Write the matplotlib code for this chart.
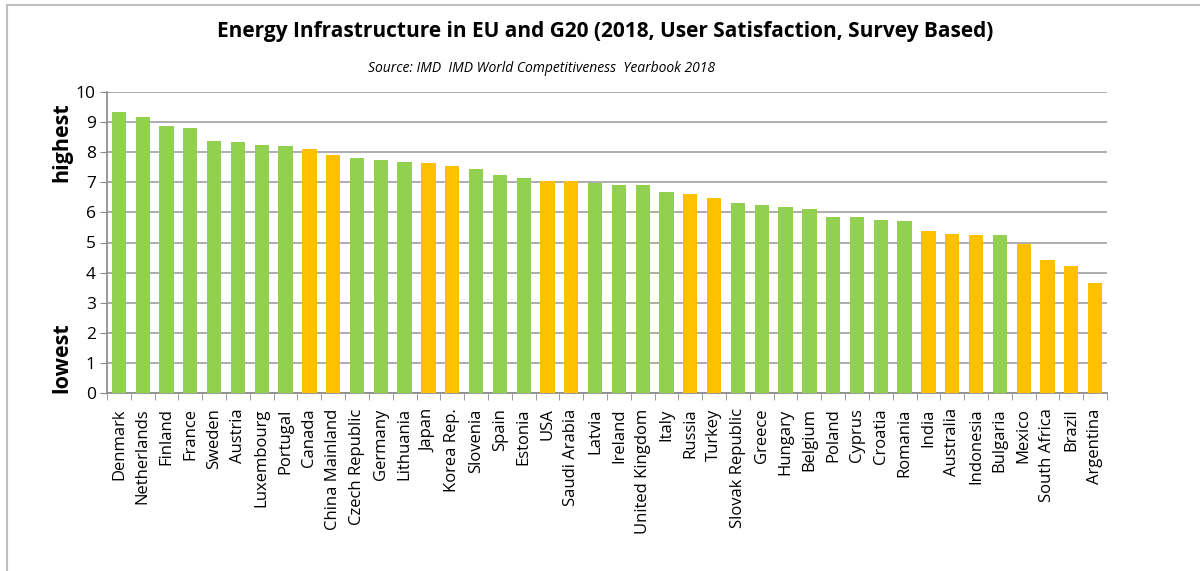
import matplotlib
matplotlib.use("Agg")
import matplotlib.pyplot as plt
from matplotlib.lines import Line2D

plt.rcParams['font.family'] = ['Open Sans', 'DejaVu Sans']

countries = ["Denmark", "Netherlands", "Finland", "France", "Sweden", "Austria",
             "Luxembourg", "Portugal", "Canada", "China Mainland", "Czech Republic",
             "Germany", "Lithuania", "Japan", "Korea Rep.", "Slovenia", "Spain",
             "Estonia", "USA", "Saudi Arabia", "Latvia", "Ireland", "United Kingdom",
             "Italy", "Russia", "Turkey", "Slovak Republic", "Greece", "Hungary",
             "Belgium", "Poland", "Cyprus", "Croatia", "Romania", "India",
             "Australia", "Indonesia", "Bulgaria", "Mexico", "South Africa",
             "Brazil", "Argentina"]
scores = [9.35, 9.16, 8.88, 8.79, 8.37, 8.33, 8.24, 8.20, 8.09, 7.92, 7.82,
          7.73, 7.68, 7.63, 7.55, 7.45, 7.23, 7.13, 7.04, 7.04, 6.97, 6.90, 6.90,
          6.67, 6.62, 6.49, 6.30, 6.26, 6.17, 6.11, 5.84, 5.84, 5.75, 5.70, 5.38,
          5.28, 5.24, 5.24, 4.96, 4.41, 4.23, 3.67]
# E = EU member, G = G20 only
group = ["E", "E", "E", "E", "E", "E", "E", "E", "G", "G", "E", "E", "E", "G",
         "G", "E", "E", "E", "G", "G", "E", "E", "E", "E", "G", "G", "E", "E",
         "E", "E", "E", "E", "E", "E", "G", "G", "G", "E", "G", "G", "G", "G"]

colors = {"E": "#92D050", "G": "#FFC000"}
bar_colors = [colors[g] for g in group]

fig = plt.figure(figsize=(12, 5.71), dpi=100)
ax = fig.add_axes([107/1200, 1 - 393/571, 1000/1200, 301/571])

x = range(len(countries))
ax.bar(x, scores, width=0.6, color=bar_colors, zorder=3)

ax.set_xlim(-0.5, len(countries) - 0.5)
ax.set_ylim(0, 10)
ax.set_yticks(range(0, 11))
ax.tick_params(axis='y', labelsize=12.5, length=5, color="#898989", pad=3)
ax.yaxis.grid(True, color="#A0A0A0", linewidth=1.2, zorder=0)

ax.set_xticks(list(x))
ax.set_xticklabels(countries, rotation=90, fontsize=12)
ax.tick_params(axis='x', length=0, pad=11)
ax.set_xticks([i - 0.5 for i in range(len(countries) + 1)], minor=True)
ax.tick_params(axis='x', which='minor', length=5, color="#898989")

for s in ["top", "right"]:
    ax.spines[s].set_visible(False)
ax.spines["left"].set_color("#898989")
ax.spines["bottom"].set_color("#898989")
ax.spines["left"].set_linewidth(1.2)
ax.spines["bottom"].set_linewidth(1.2)

fig.text(605/1200, 1 - 32/571, "Energy Infrastructure in EU and G20 (2018, User Satisfaction, Survey Based)",
         ha="center", va="center", fontsize=15, fontweight="bold")
fig.text(541/1200, 1 - 69/571, "Source: IMD  IMD World Competitiveness  Yearbook 2018",
         ha="center", va="center", fontsize=10, style="italic")
fig.text(62/1200, 1 - 142/571, "highest", rotation=90, ha="center", va="center",
         fontsize=15.5, fontweight="bold")
fig.text(62/1200, 1 - 358/571, "lowest", rotation=90, ha="center", va="center",
         fontsize=15.5, fontweight="bold")

# outer chart border (top and left edges visible)
fig.add_artist(Line2D([7/1200, 1], [1 - 5/571, 1 - 5/571], color="#BFBFBF", linewidth=1.5))
fig.add_artist(Line2D([7/1200, 7/1200], [0, 1 - 5/571], color="#BFBFBF", linewidth=1.5))

fig.savefig("out.png", dpi=100)
